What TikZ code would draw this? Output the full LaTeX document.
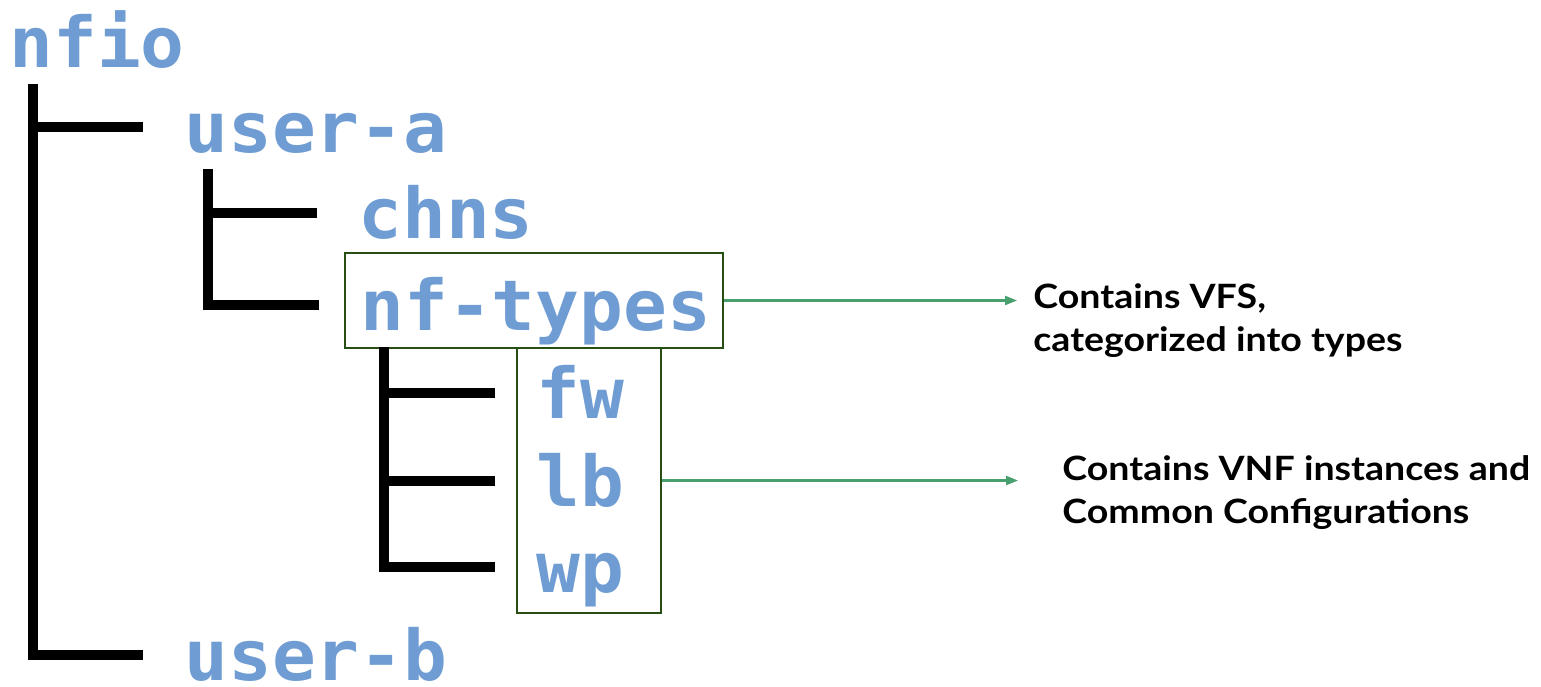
\documentclass[tikz,border=0pt]{standalone}
\usepackage{fontspec}
\usetikzlibrary{arrows.meta}
\newfontfamily\dirfont[FakeStretch=1.04]{DejaVu Sans Mono}
\newfontfamily\notefont[FakeStretch=1.12]{Lato}
\definecolor{dirblue}{RGB}{111,157,211}
\definecolor{boxgreen}{RGB}{39,78,19}
\definecolor{arrowgreen}{RGB}{72,160,110}

\begin{document}
\begin{tikzpicture}[x=0.5pt,y=-0.5pt,>={Triangle[length=6pt,width=4.5pt]}]
  \tikzstyle{dir}=[font=\dirfont\bfseries\fontsize{35}{42}\selectfont,text=dirblue,
                   inner sep=0pt,anchor=base west]
  \tikzstyle{branch}=[line width=5pt,to path={([xshift=12pt,yshift=-8.5pt]\tikztostart.base west)
                   |- ([xshift=-20.5pt,yshift=12.5pt]\tikztotarget.base west)}]
  \tikzstyle{group}=[draw=boxgreen,line width=1pt,inner sep=0pt]
  \tikzstyle{note}=[font=\notefont\bfseries\fontsize{16.75}{21.5}\selectfont,align=left,
                    inner sep=0pt,anchor=north west]
  \tikzstyle{pointer}=[->,draw=arrowgreen,fill=arrowgreen,line width=1.1pt]

  \useasboundingbox (0,0) rectangle (1541,686);

  \node[dir] (nfio)    at (9,67)    {nfio};
  \node[dir] (usera)   at (184,152) {user-a};
  \node[dir] (chns)    at (358,238) {chns};
  \node[dir] (nftypes) at (360,330) {nf-types};
  \node[dir] (fw)      at (536,418) {fw};
  \node[dir] (lb)      at (536,506) {lb};
  \node[dir] (wp)      at (536,592) {wp};
  \node[dir] (userb)   at (184,680) {user-b};

  \node[group,minimum width=189pt,minimum height=47.5pt] (typesbox) at (534,300.5) {};
  \node[group,minimum width=72pt,minimum height=132.5pt] (vnfbox) at (589,480.5) {};

  \node[note] (vfsnote) at (1033,283) {Contains VFS,\\categorized into types};
  \node[note] (vnfnote) at (1062,455) {Contains VNF instances and\\Common Configurations};

  \path[branch] (nfio)    edge (usera)
                          edge (userb)
                (usera)   edge (chns)
                          edge (nftypes)
                (nftypes) edge (fw)
                          edge (lb)
                          edge (wp);

  \path (typesbox.east) edge[pointer,shorten >=8pt] (typesbox.east -| vfsnote.west)
        (vnfbox.east)   edge[pointer,shorten >=22pt] (vnfbox.east -| vnfnote.west);
\end{tikzpicture}
\end{document}
